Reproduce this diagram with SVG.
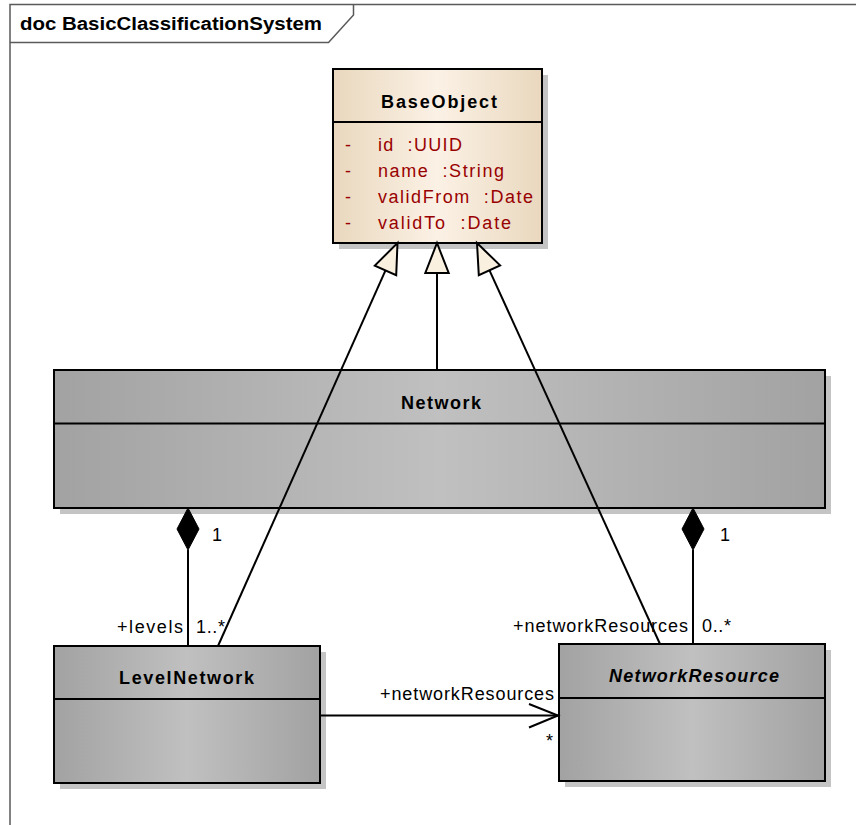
<svg xmlns="http://www.w3.org/2000/svg" width="856" height="825" viewBox="0 0 856 825">
<defs>
<linearGradient id="gBeige" x1="0" y1="0" x2="1" y2="0">
<stop offset="0" stop-color="#E9D8BE"/>
<stop offset="0.5" stop-color="#FBF1E5"/>
<stop offset="1" stop-color="#E9D8BE"/>
</linearGradient>
<linearGradient id="gGrey" x1="0" y1="0" x2="1" y2="0">
<stop offset="0" stop-color="#A2A2A2"/>
<stop offset="0.5" stop-color="#C0C0C0"/>
<stop offset="1" stop-color="#A2A2A2"/>
</linearGradient>
</defs>
<style>
.frame{fill:none;stroke:#5a5a5a;stroke-width:1.5}
.box{stroke:#000;stroke-width:2}
.shadow{fill:#C4C4C4}
.div{stroke:#000;stroke-width:2}
.title{font-family:"Liberation Sans",Arial,sans-serif;font-weight:bold;font-size:18px;fill:#000}
.attr{font-family:"Liberation Sans",Arial,sans-serif;font-size:18px;fill:#990000;white-space:pre}
.lbl{font-family:"Liberation Sans",Arial,sans-serif;font-size:18px;fill:#000}
.ln{stroke:#000;stroke-width:2;fill:none}
.tri{fill:#FAF0E0;stroke:#000;stroke-width:2}
.dia{fill:#000;stroke:#000;stroke-width:1}
</style>
<rect width="856" height="825" fill="#fff"/>
<g id="frame">
<path class="frame" d="M10,825 L10,4.5 L856,4.5"/>
<path class="frame" d="M10,42.5 L328.5,42.5 L353.5,15 L353.5,4.5"/>
<text class="title" x="20" y="30" textLength="302" lengthAdjust="spacingAndGlyphs">doc BasicClassificationSystem</text>
</g>
<g id="BaseObject">
<rect class="shadow" x="339" y="75" width="209" height="174"/>
<rect class="box" x="333" y="69" width="209" height="174" fill="url(#gBeige)"/>
<line class="div" x1="333" y1="122" x2="542" y2="122"/>
<text class="title" x="381" y="107.5" textLength="116" lengthAdjust="spacing">BaseObject</text>
<text class="attr" x="345" y="151">-</text>
<text class="attr" x="378" y="151" textLength="84" lengthAdjust="spacing">id  :UUID</text>
<text class="attr" x="345" y="177">-</text>
<text class="attr" x="378" y="177" textLength="126" lengthAdjust="spacing">name  :String</text>
<text class="attr" x="345" y="203">-</text>
<text class="attr" x="378" y="203" textLength="155" lengthAdjust="spacing">validFrom  :Date</text>
<text class="attr" x="345" y="229">-</text>
<text class="attr" x="378" y="229" textLength="133" lengthAdjust="spacing">validTo  :Date</text>
</g>
<g id="Network">
<rect class="shadow" x="60" y="376" width="771" height="138"/>
<rect class="box" x="54" y="370" width="771" height="138" fill="url(#gGrey)"/>
<line class="div" x1="54" y1="423.5" x2="825" y2="423.5"/>
<text class="title" x="401" y="409" textLength="80" lengthAdjust="spacing">Network</text>
</g>
<g id="LevelNetwork">
<rect class="shadow" x="60" y="652" width="266" height="137"/>
<rect class="box" x="54" y="646" width="266" height="137" fill="url(#gGrey)"/>
<line class="div" x1="54" y1="699" x2="320" y2="699"/>
<text class="title" x="119" y="684" textLength="135" lengthAdjust="spacing">LevelNetwork</text>
</g>
<g id="NetworkResource">
<rect class="shadow" x="565" y="650" width="266" height="137"/>
<rect class="box" x="559" y="644" width="266" height="137" fill="url(#gGrey)"/>
<line class="div" x1="559" y1="698" x2="825" y2="698"/>
<text class="title" x="609" y="682" textLength="170" lengthAdjust="spacing" font-style="italic">NetworkResource</text>
</g>
<g id="connectors">
<line class="ln" x1="437" y1="370" x2="437" y2="273"/>
<polygon class="tri" points="437,243 448.7,273 425.3,273"/>
<line class="ln" x1="218" y1="646" x2="385.5" y2="270.4"/>
<polygon class="tri" points="397.5,243 396.2,275.2 374.8,265.6"/>
<line class="ln" x1="660" y1="644" x2="489.5" y2="270.3"/>
<polygon class="tri" points="477,243 500.1,265.4 478.8,275.2"/>
<line class="ln" x1="188" y1="550" x2="188" y2="646"/>
<polygon class="dia" points="188,508 199,529 188,550 177,529"/>
<line class="ln" x1="693" y1="550" x2="693" y2="644"/>
<polygon class="dia" points="693,508 704,529 693,550 682,529"/>
<line class="ln" x1="320" y1="715.5" x2="558" y2="715.5"/>
<polyline class="ln" points="529,704 558,715.5 529,727.5"/>
<text class="lbl" x="212" y="541">1</text>
<text class="lbl" x="117" y="633" textLength="66" lengthAdjust="spacing">+levels</text>
<text class="lbl" x="196" y="633" textLength="29" lengthAdjust="spacing">1..*</text>
<text class="lbl" x="720" y="541">1</text>
<text class="lbl" x="513" y="632" textLength="175" lengthAdjust="spacing">+networkResources</text>
<text class="lbl" x="702" y="632" textLength="29" lengthAdjust="spacing">0..*</text>
<text class="lbl" x="380" y="700" textLength="174" lengthAdjust="spacing">+networkResources</text>
<text class="lbl" x="546" y="747">*</text>
</g>
</svg>
